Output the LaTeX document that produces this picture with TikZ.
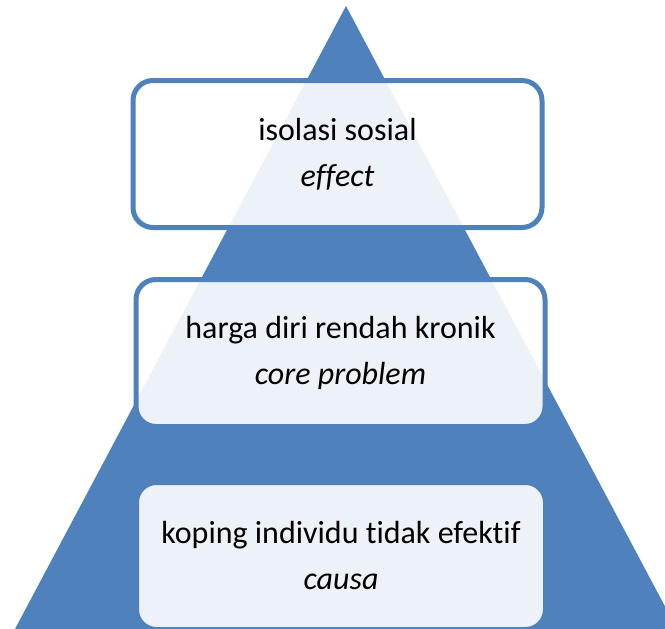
\documentclass[tikz,border=0pt]{standalone}
\usepackage{fontspec}
\setmainfont[Ligatures={NoCommon,NoRequired,NoContextual}]{Carlito}
\definecolor{triblue}{HTML}{4F81BD}
\begin{document}
\begin{tikzpicture}[x=1pt,y=-1pt,
  levelbox/.style={draw=triblue, line width=5pt, fill=white, fill opacity=0.9, text opacity=1,
    rounded corners=20pt, minimum width=409pt, minimum height=147pt, inner sep=0pt,
    align=center, font=\fontsize{32}{46}\selectfont, text=black}]
\useasboundingbox (0,0) rectangle (665,629);
\fill[white] (0,0) rectangle (665,629);
\coordinate (apex) at (346,6);
\coordinate (bl) at (15,629);
\coordinate (br) at (677,629);
\fill[triblue] (apex) -- (br) -- (bl) -- cycle;
\node[levelbox] (b1) at (337.5,154) {isolasi sosial\\\textit{effect}};
\node[levelbox] (b2) at (340.5,353) {harga diri rendah kronik\\\textit{core problem}};
\node[levelbox] (b3) at (341,556) {koping individu tidak efektif\\\textit{causa}};
\end{tikzpicture}
\end{document}
